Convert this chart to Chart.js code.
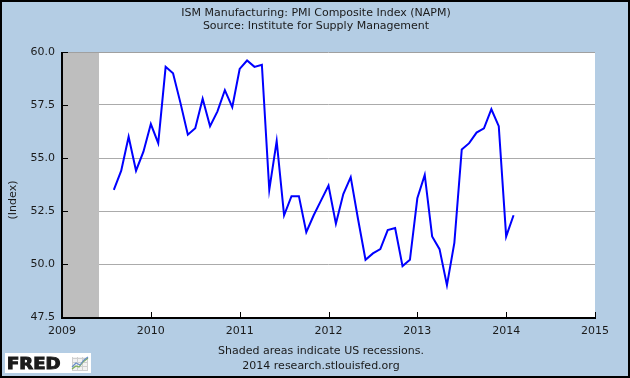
<!DOCTYPE html>
<html><head><meta charset="utf-8">
<script src="https://cdn.jsdelivr.net/npm/chart.js@4.4.1/dist/chart.umd.min.js"></script>
<style>html,body{margin:0;padding:0;background:#B4CDE4;overflow:hidden}canvas{display:block}</style>
</head><body>
<canvas id="c" width="630" height="378"></canvas>
<script>
const titleLines = ["ISM Manufacturing: PMI Composite Index (NAPM)", "Source: Institute for Supply Management"];
const footerLines = ["Shaded areas indicate US recessions.", "2014 research.stlouisfed.org"];
const yAxisLabel = "(Index)";
const logoText = "FRED";

const months = [
  "2009-08","2009-09","2009-10","2009-11","2009-12",
  "2010-01","2010-02","2010-03","2010-04","2010-05","2010-06","2010-07","2010-08","2010-09","2010-10","2010-11","2010-12",
  "2011-01","2011-02","2011-03","2011-04","2011-05","2011-06","2011-07","2011-08","2011-09","2011-10","2011-11","2011-12",
  "2012-01","2012-02","2012-03","2012-04","2012-05","2012-06","2012-07","2012-08","2012-09","2012-10","2012-11","2012-12",
  "2013-01","2013-02","2013-03","2013-04","2013-05","2013-06","2013-07","2013-08","2013-09","2013-10","2013-11","2013-12",
  "2014-01","2014-02"
];
const pmiValues = [
  53.5, 54.4, 56.0, 54.4, 55.3,
  56.6, 55.7, 59.3, 59.0, 57.6, 56.1, 56.4, 57.8, 56.5, 57.2, 58.2, 57.4,
  59.2, 59.6, 59.3, 59.4, 53.5, 55.8, 52.3, 53.2, 53.2, 51.5, 52.3, 53.0,
  53.7, 51.9, 53.3, 54.1, 52.1, 50.2, 50.5, 50.7, 51.6, 51.7, 49.9, 50.2,
  53.1, 54.2, 51.3, 50.7, 49.0, 51.0, 55.4, 55.7, 56.2, 56.4, 57.3, 56.5,
  51.3, 52.3
];
const xTicks = [2009, 2010, 2011, 2012, 2013, 2014, 2015];
const yTicks = [47.5, 50.0, 52.5, 55.0, 57.5, 60.0];
const recessionStart = ["2007-12"];
const recessionEnd = ["2009-06"];

function toYear(s){ const p = s.split('-').map(Number); return p[0] + (p[1]-1)/12; }
const points = months.map((m,i)=>({x: toYear(m), y: pmiValues[i]}));

const BG = '#B4CDE4';
const FONT = '"DejaVu Sans", Verdana, sans-serif';

const decor = {
  id: 'decor',
  beforeDraw(chart){
    const c = chart.ctx, a = chart.chartArea;
    c.save();
    c.fillStyle = BG; c.fillRect(0,0,chart.width,chart.height);
    c.fillStyle = '#FFFFFF'; c.fillRect(a.left, a.top, a.right-a.left, a.bottom-a.top);
    c.restore();
  },
  beforeDatasetsDraw(chart){
    const c = chart.ctx, a = chart.chartArea, xs = chart.scales.x, ys = chart.scales.y;
    c.save();
    c.fillStyle = '#BEBEBE';
    recessionStart.forEach((s,i)=>{
      const x0 = Math.max(a.left, xs.getPixelForValue(toYear(s)));
      const x1 = Math.min(a.right, xs.getPixelForValue(toYear(recessionEnd[i])));
      if (x1 > x0) c.fillRect(x0, a.top, x1-x0, a.bottom-a.top);
    });
    c.strokeStyle = '#A0A0A0'; c.lineWidth = 1;
    c.beginPath(); c.moveTo(a.left, a.top+0.5); c.lineTo(a.right, a.top+0.5); c.stroke();
    c.strokeStyle = '#000'; c.lineWidth = 2;
    c.beginPath(); c.moveTo(a.left, a.top); c.lineTo(a.left, a.bottom+1); c.lineTo(a.right+1, a.bottom+1); c.stroke();
    c.lineWidth = 1;
    c.beginPath();
    yTicks.forEach(v=>{ const y = Math.round(ys.getPixelForValue(v))+0.5; c.moveTo(a.left, y); c.lineTo(a.left+6, y); });
    xTicks.forEach(v=>{ const x = Math.round(xs.getPixelForValue(v))+0.5; c.moveTo(x, a.bottom); c.lineTo(x, a.bottom-5); });
    c.stroke();
    c.restore();
  },
  afterDraw(chart){
    const c = chart.ctx;
    c.save();
    c.fillStyle = '#1a1a1a';
    c.textAlign = 'center'; c.textBaseline = 'middle';
    c.font = '11px ' + FONT;
    c.fillText(titleLines[0], 316, 13);
    c.fillText(titleLines[1], 316, 26);
    c.fillText(footerLines[0], 321, 351);
    c.fillText(footerLines[1], 321, 366);
    c.save();
    c.translate(13, 200); c.rotate(-Math.PI/2);
    c.fillText(yAxisLabel, 0, 0);
    c.restore();
    // logo
    c.fillStyle = '#FFFFFF'; c.fillRect(5, 353, 86, 20);
    c.save();
    c.translate(7, 368.5); c.scale(1.2, 1);
    c.fillStyle = '#1c1c1c'; c.strokeStyle = '#1c1c1c'; c.lineWidth = 1;
    c.textAlign = 'left'; c.textBaseline = 'alphabetic';
    c.font = 'bold 15px ' + FONT;
    c.fillText(logoText, 0, 0);
    c.strokeText(logoText, 0, 0);
    c.restore();
    // mini chart icon
    c.fillStyle = '#F2F2F2'; c.fillRect(72, 357, 16, 14);
    c.strokeStyle = '#CFCFCF'; c.lineWidth = 1;
    c.beginPath();
    for (let i=0;i<4;i++){ c.moveTo(72, 358+i*4+0.5); c.lineTo(88, 358+i*4+0.5); c.moveTo(72+i*5+0.5, 357); c.lineTo(72+i*5+0.5, 371); }
    c.stroke();
    c.strokeStyle = '#7FAF5A'; c.lineWidth = 1.2;
    c.beginPath(); c.moveTo(72, 369); c.lineTo(76, 366); c.lineTo(79, 367); c.lineTo(83, 362); c.lineTo(88, 358); c.stroke();
    c.strokeStyle = '#6A8FC8';
    c.beginPath(); c.moveTo(72, 367); c.lineTo(76, 363); c.lineTo(80, 365); c.lineTo(84, 360); c.lineTo(88, 357); c.stroke();
    c.strokeStyle = '#000'; c.lineWidth = 2;
    c.strokeRect(1, 1, chart.width-2, chart.height-2);
    c.restore();
  }
};

new Chart(document.getElementById('c'), {
  type: 'line',
  data: { datasets: [{ data: points, borderColor: '#0000FF', borderWidth: 2, pointRadius: 0, tension: 0, fill: false }] },
  options: {
    responsive: false, animation: false, devicePixelRatio: 1,
    layout: { padding: { left: 0, right: 35, top: 52, bottom: 0 } },
    plugins: { legend: { display: false }, tooltip: { enabled: false }, title: { display: false } },
    scales: {
      x: {
        type: 'linear', min: 2009, max: 2015,
        afterBuildTicks(s){ s.ticks = xTicks.map(v=>({value: v})); },
        afterFit(s){ s.height = 61; },
        grid: { display: false, drawTicks: false },
        border: { display: false },
        ticks: { padding: 8, color: '#1a1a1a', font: { family: FONT, size: 11 }, maxRotation: 0, callback: v => String(v) }
      },
      y: {
        min: 47.5, max: 60,
        afterBuildTicks(s){ s.ticks = yTicks.map(v=>({value: v})); },
        afterFit(s){ s.width = 62; },
        grid: { drawTicks: false, lineWidth: 1, color: c => (c.tick && c.tick.value > 47.5 && c.tick.value < 60) ? '#ABABAB' : 'rgba(0,0,0,0)' },
        border: { display: false },
        ticks: { padding: 7, color: '#1a1a1a', font: { family: FONT, size: 11 }, callback: v => Number(v).toFixed(1) }
      }
    }
  },
  plugins: [decor]
});
</script>
</body></html>
